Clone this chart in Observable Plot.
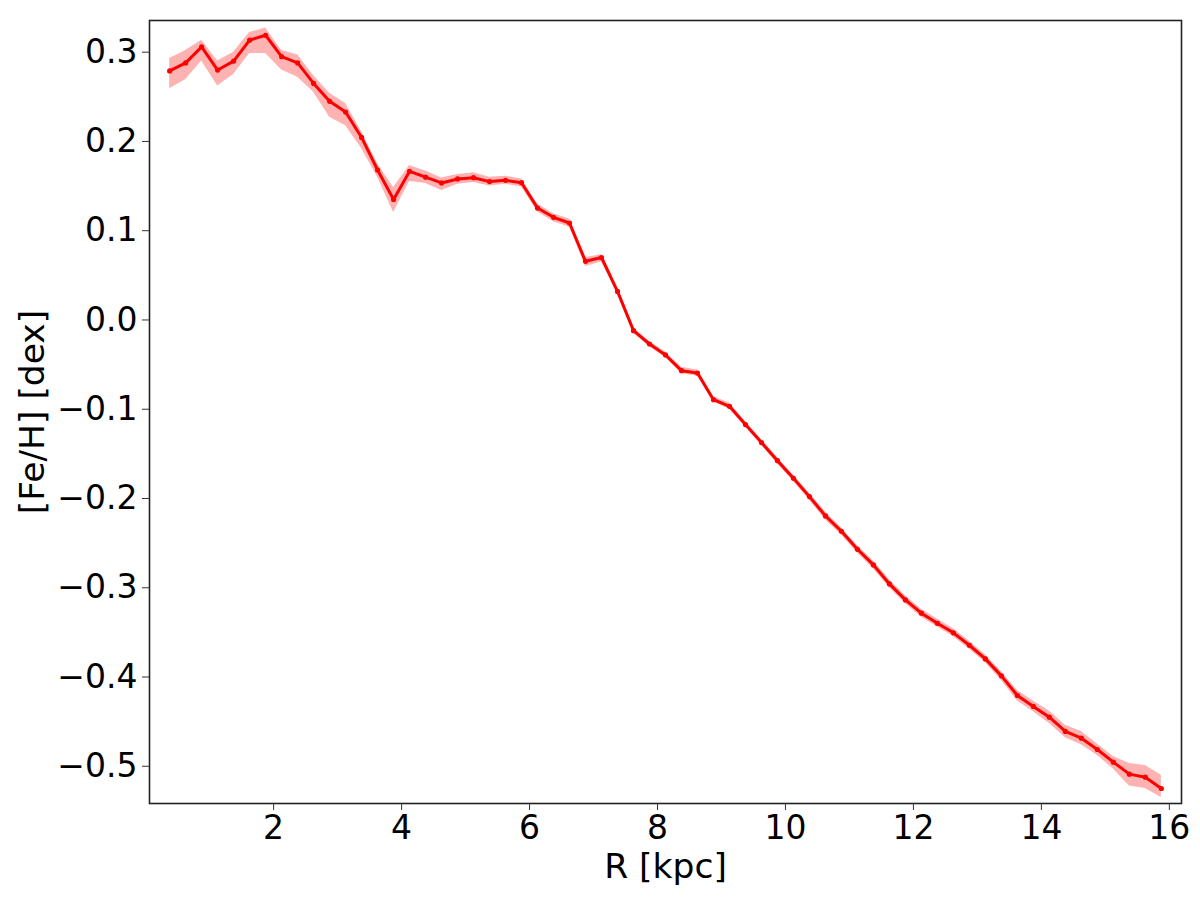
<!DOCTYPE html>
<html>
<head>
<meta charset="utf-8">
<script src="https://cdn.jsdelivr.net/npm/d3@7"></script>
<script src="https://cdn.jsdelivr.net/npm/@observablehq/plot@0.6"></script>
<style>
  html, body { margin: 0; padding: 0; background: #fff; }
  #chart { width: 1200px; height: 900px; }
</style>
</head>
<body>
<div id="chart"></div>
<script>
// Galactocentric radius bin centres [kpc]
const R = [0.375, 0.625, 0.875, 1.125, 1.375, 1.625, 1.875, 2.125, 2.375, 2.625,
  2.875, 3.125, 3.375, 3.625, 3.875, 4.125, 4.375, 4.625, 4.875, 5.125,
  5.375, 5.625, 5.875, 6.125, 6.375, 6.625, 6.875, 7.125, 7.375, 7.625,
  7.875, 8.125, 8.375, 8.625, 8.875, 9.125, 9.375, 9.625, 9.875, 10.125,
  10.375, 10.625, 10.875, 11.125, 11.375, 11.625, 11.875, 12.125, 12.375, 12.625,
  12.875, 13.125, 13.375, 13.625, 13.875, 14.125, 14.375, 14.625, 14.875, 15.125,
  15.375, 15.625, 15.875];
// median [Fe/H] [dex]
const feh = [0.279, 0.288, 0.306, 0.280, 0.290, 0.3135, 0.319, 0.295, 0.288, 0.265,
  0.245, 0.233, 0.2045, 0.168, 0.135, 0.1665, 0.160, 0.1535, 0.158, 0.1594,
  0.155, 0.1564, 0.1538, 0.1254, 0.115, 0.1086, 0.0657, 0.070, 0.032, -0.012,
  -0.0269, -0.0392, -0.0568, -0.0594, -0.0893, -0.0967, -0.1172, -0.1374, -0.1576, -0.1773,
  -0.1979, -0.2195, -0.2367, -0.2569, -0.2744, -0.2957, -0.3136, -0.3285, -0.3398, -0.3505,
  -0.3644, -0.3797, -0.3987, -0.4207, -0.433, -0.445, -0.461, -0.4685, -0.4812, -0.4954,
  -0.5088, -0.5122, -0.5249];
// lower edge of the shaded uncertainty band
const fehLo = [0.259, 0.269, 0.290, 0.262, 0.275, 0.2985, 0.2985, 0.280, 0.272, 0.255,
  0.227, 0.2175, 0.192, 0.160, 0.1205, 0.155, 0.153, 0.145, 0.152, 0.154,
  0.150, 0.152, 0.149, 0.121, 0.110, 0.104, 0.060, 0.065, 0.029, -0.015,
  -0.030, -0.042, -0.060, -0.063, -0.092, -0.100, -0.120, -0.140, -0.161, -0.181,
  -0.202, -0.224, -0.241, -0.261, -0.279, -0.300, -0.318, -0.333, -0.344, -0.355,
  -0.369, -0.384, -0.404, -0.427, -0.439, -0.452, -0.468, -0.476, -0.488, -0.503,
  -0.522, -0.525, -0.535];
// upper edge of the shaded uncertainty band
const fehHi = [0.293, 0.302, 0.3135, 0.290, 0.300, 0.322, 0.327, 0.302, 0.297, 0.2735,
  0.254, 0.2425, 0.211, 0.175, 0.1485, 0.173, 0.167, 0.159, 0.163, 0.165,
  0.160, 0.161, 0.158, 0.130, 0.119, 0.113, 0.070, 0.073, 0.035, -0.009,
  -0.024, -0.036, -0.053, -0.056, -0.086, -0.093, -0.114, -0.134, -0.154, -0.174,
  -0.194, -0.215, -0.233, -0.253, -0.270, -0.291, -0.309, -0.324, -0.335, -0.346,
  -0.360, -0.375, -0.394, -0.415, -0.427, -0.438, -0.454, -0.461, -0.475, -0.489,
  -0.497, -0.499, -0.510];

const xTicks = [2, 4, 6, 8, 10, 12, 14, 16];
const yTicks = [0.3, 0.2, 0.1, 0.0, -0.1, -0.2, -0.3, -0.4, -0.5];
const xLabel = "R [kpc]";
const yLabel = "[Fe/H] [dex]";

const data = R.map((r, i) => ({R: r, feh: feh[i], lo: fehLo[i], hi: fehHi[i]}));

const font = "DejaVu Sans";
const fmtY = d => d.toFixed(1).replace("-", "\u2212");

const chart = Plot.plot({
  width: 1200,
  height: 900,
  marginLeft: 149,
  marginRight: 19,
  marginTop: 20,
  marginBottom: 97,
  style: {fontFamily: font, background: "#fff"},
  x: {domain: [0.06, 16.19]},
  y: {domain: [-0.5417, 0.3355]},
  marks: [
    Plot.areaY(data, {x: "R", y1: "lo", y2: "hi", fill: "red", fillOpacity: 0.3}),
    Plot.line(data, {x: "R", y: "feh", stroke: "red", strokeWidth: 3}),
    Plot.dot(data, {x: "R", y: "feh", r: 2.6, fill: "red"}),
    Plot.frame({stroke: "#222", strokeWidth: 1.6}),
    Plot.axisX({ticks: xTicks, tickSize: 7, tickPadding: 5, fontSize: 33, fontFamily: font,
      stroke: "#333", fill: "#000", label: null}),
    Plot.axisY({ticks: yTicks, tickSize: 7, tickPadding: 5, fontSize: 33, fontFamily: font,
      stroke: "#333", fill: "#000", tickFormat: fmtY, label: null}),
    Plot.text([xLabel], {frameAnchor: "bottom", dy: 63, text: d => d, fontSize: 34.5,
      fontFamily: font, fill: "#000", textAnchor: "middle", lineAnchor: "middle"}),
    Plot.text([yLabel], {frameAnchor: "left", dx: -117, text: d => d, rotate: -90, fontSize: 34.5,
      fontFamily: font, fill: "#000", textAnchor: "middle", lineAnchor: "middle"})
  ]
});
document.getElementById("chart").appendChild(chart);
</script>
</body>
</html>
